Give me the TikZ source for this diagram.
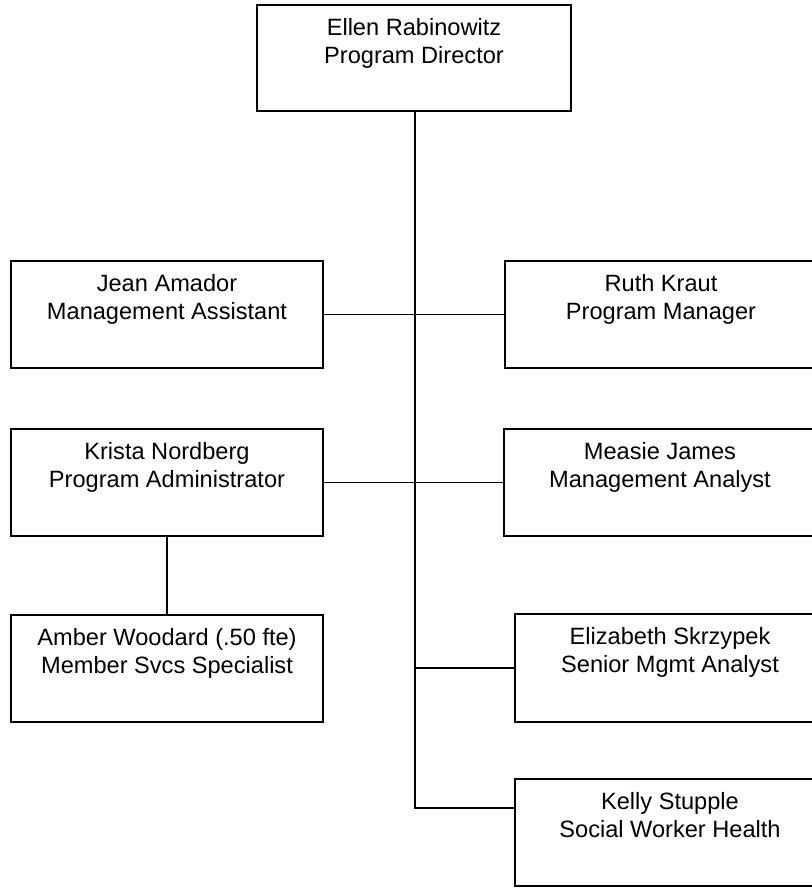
\documentclass[tikz,border=0pt]{standalone}
\usepackage{fontspec}
\setmainfont{Liberation Sans}
\begin{document}
\begin{tikzpicture}[x=1pt,y=-1pt,
  box/.style={draw=black, line width=1.8pt, fill=white, inner sep=0pt,
              minimum width=312pt, minimum height=107pt},
  name text/.style={anchor=north, inner sep=0pt, align=center,
              font=\fontsize{23.6}{28}\selectfont},
  link/.style={draw=black, line width=1.8pt}]
\useasboundingbox (0,0) rectangle (811,888);

% connectors first, so boxes sit on top
\coordinate (topbot) at (415,111);
\coordinate (kj) at (415,808);
\draw[link] (topbot) -- (kj) -- (515,808);

% boxes
\node[box, minimum width=314pt, minimum height=106pt] (top) at (414,58) {};
\node[box] (jean)   at (167,314.5) {};
\node[box] (ruth)   at (661,314.5) {};
\node[box] (krista) at (167,482.5) {};
\node[box] (measie) at (660,482.5) {};
\node[box] (amber)  at (167,668.5) {};
\node[box, minimum width=310pt, minimum height=108pt] (eliz)  at (670,668) {};
\node[box, minimum width=310pt] (kelly) at (670,832.5) {};

% staff names and titles
\node[name text] (topt)    at ([yshift=-14pt]top.north)    {Ellen Rabinowitz\\Program Director};
\node[name text] (jeant)   at ([yshift=-14pt]jean.north)   {Jean Amador\\Management Assistant};
\node[name text] (rutht)   at ([yshift=-14pt]ruth.north)   {Ruth Kraut\\Program Manager};
\node[name text] (kristat) at ([yshift=-14pt]krista.north) {Krista Nordberg\\Program Administrator};
\node[name text] (measiet) at ([yshift=-14pt]measie.north) {Measie James\\Management Analyst};
\node[name text] (ambert)  at ([yshift=-14pt]amber.north)  {Amber Woodard (.50 fte)\\Member Svcs Specialist};
\node[name text] (elizt)   at ([yshift=-14pt]eliz.north)   {Elizabeth Skrzypek\\Senior Mgmt Analyst};
\node[name text] (kellyt)  at ([yshift=-14pt]kelly.north)  {Kelly Stupple\\Social Worker Health};

% reporting lines
\draw[link] (jean.east) -- (ruth.west);
\draw[link] (krista.east) -- (measie.west);
\draw[link] (krista.south) -- (amber.north);
\draw[link] (topbot |- eliz.west) -- (eliz.west);
\end{tikzpicture}
\end{document}
